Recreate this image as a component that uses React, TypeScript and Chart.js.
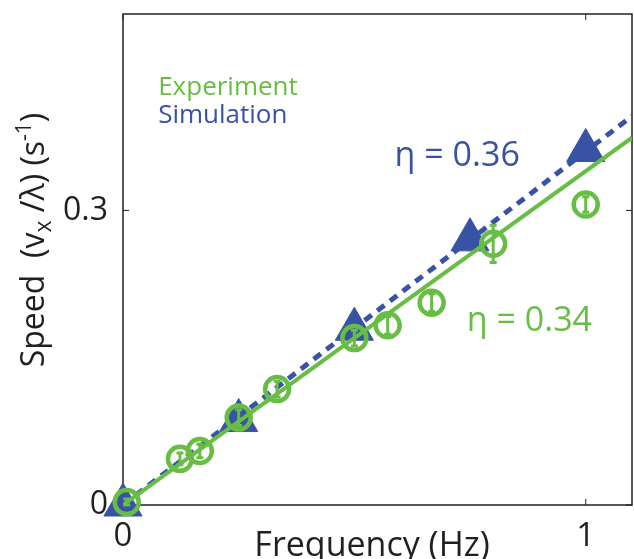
import React, { useEffect, useRef } from "react";
import { Chart, registerables } from "chart.js";
Chart.register(...registerables);

// ---- data ----
const expFreq = [0.008, 0.123, 0.166, 0.25, 0.333, 0.5, 0.572, 0.667, 0.8, 1.0];
const expSpeed = [0.003, 0.047, 0.055, 0.089, 0.118, 0.17, 0.183, 0.206, 0.266, 0.306];
const expErr = [0.003, 0.006, 0.007, 0.008, 0.008, 0.008, 0.009, 0.009, 0.019, 0.008];
const simFreq = [0, 0.25, 0.5, 0.75, 1.0];
const simSpeed = [0, 0.086, 0.179, 0.27, 0.361];
const fitFreq = [0, 1.1];
const expFitSpeed = [0, 0.374];
const simFitSpeed = [0, 0.396];
const xTickValues = [0, 1];
const xTickLabels = ["0", "1"];
const yTickValues = [0, 0.3];
const yTickLabels = ["0", "0.3"];

const GREEN = "#68bd45";
const BLUE = "#3953a4";
const INK = "#231f20";
const FONT = "'Open Sans', 'DejaVu Sans', sans-serif";

const toPts = (xs: number[], ys: number[]) => xs.map((x, i) => ({ x, y: ys[i] }));

const decorPlugin = {
  id: "decor",
  beforeDatasetsDraw(chart: any) {
    const { ctx, chartArea: a, scales } = chart;
    const xs = scales.x, ys = scales.y;
    ctx.save();
    ctx.strokeStyle = INK;
    ctx.lineWidth = 1.5;
    ctx.strokeRect(a.left, a.top, a.right - a.left, a.bottom - a.top);
    const tl = 6;
    ctx.lineWidth = 1;
    ctx.beginPath();
    xTickValues.forEach((v) => {
      const px = xs.getPixelForValue(v);
      ctx.moveTo(px, a.bottom);
      ctx.lineTo(px, a.bottom - tl);
      ctx.moveTo(px, a.top);
      ctx.lineTo(px, a.top + tl);
    });
    yTickValues.forEach((v) => {
      const py = ys.getPixelForValue(v);
      ctx.moveTo(a.left, py);
      ctx.lineTo(a.left + tl, py);
      ctx.moveTo(a.right, py);
      ctx.lineTo(a.right - tl, py);
    });
    ctx.stroke();
    ctx.restore();
  },
  afterDatasetsDraw(chart: any) {
    const { ctx, scales } = chart;
    const xs = scales.x, ys = scales.y;
    ctx.save();
    ctx.strokeStyle = GREEN;
    ctx.lineWidth = 3;
    ctx.beginPath();
    expFreq.forEach((f, i) => {
      const px = xs.getPixelForValue(f);
      const y1 = ys.getPixelForValue(expSpeed[i] - expErr[i]);
      const y2 = ys.getPixelForValue(expSpeed[i] + expErr[i]);
      ctx.moveTo(px, y1);
      ctx.lineTo(px, y2);
      ctx.moveTo(px - 3.5, y1);
      ctx.lineTo(px + 3.5, y1);
      ctx.moveTo(px - 3.5, y2);
      ctx.lineTo(px + 3.5, y2);
    });
    ctx.stroke();
    ctx.restore();
  },
  afterDraw(chart: any) {
    const { ctx, scales } = chart;
    const xs = scales.x, ys = scales.y;
    ctx.save();
    ctx.textBaseline = "alphabetic";
    ctx.textAlign = "left";
    const txt = (s: string, x: number, y: number, size: number, color: string) => {
      ctx.font = `${size}px ${FONT}`;
      ctx.fillStyle = color;
      ctx.fillText(s, xs.getPixelForValue(x), ys.getPixelForValue(y));
    };
    txt("Experiment", 0.076, 0.418, 26, GREEN);
    txt("Simulation", 0.076, 0.389, 26, BLUE);
    txt("η = 0.36", 0.587, 0.345, 34, BLUE);
    txt("η = 0.34", 0.743, 0.177, 34, GREEN);

    // x-axis title
    ctx.font = `34px ${FONT}`;
    ctx.fillStyle = INK;
    ctx.textAlign = "center";
    ctx.fillText("Frequency (Hz)", 372, 556);

    // y-axis title (rotated, with sub/superscript)
    const parts: [string, number, number][] = [
      ["Speed  (v", 32, 0],
      ["x", 23, 7],
      [" /λ) (s", 32, 0],
      ["-1", 21, -13],
      [")", 32, 0],
    ];
    let total = 0;
    parts.forEach(([s, size]) => {
      ctx.font = `${size}px ${FONT}`;
      total += ctx.measureText(s).width;
    });
    ctx.translate(44, 240);
    ctx.rotate(-Math.PI / 2);
    ctx.textAlign = "left";
    let cx = -total / 2;
    parts.forEach(([s, size, dy]) => {
      ctx.font = `${size}px ${FONT}`;
      ctx.fillText(s, cx, dy);
      cx += ctx.measureText(s).width;
    });
    ctx.restore();
  },
};

export default function App() {
  const ref = useRef<HTMLCanvasElement>(null);
  useEffect(() => {
    if (!ref.current) return;
    const chart = new Chart(ref.current, {
      type: "scatter",
      data: {
        datasets: [
          {
            label: "Experiment",
            data: toPts(expFreq, expSpeed),
            pointStyle: "circle",
            pointRadius: 12,
            borderWidth: 4.5,
            borderColor: GREEN,
            backgroundColor: "rgba(0,0,0,0)",
            showLine: false,
            clip: false,
            order: 0,
          } as any,
          {
            label: "Experiment fit",
            data: toPts(fitFreq, expFitSpeed),
            showLine: true,
            borderColor: GREEN,
            borderWidth: 4,
            pointRadius: 0,
            order: 1,
          } as any,
          {
            label: "Simulation fit",
            data: toPts(fitFreq, simFitSpeed),
            showLine: true,
            borderColor: BLUE,
            borderWidth: 5,
            borderDash: [9, 7],
            pointRadius: 0,
            order: 2,
          } as any,
          {
            label: "Simulation",
            data: toPts(simFreq, simSpeed),
            pointStyle: "triangle",
            pointRadius: 22,
            borderWidth: 1,
            borderColor: BLUE,
            backgroundColor: BLUE,
            showLine: false,
            clip: false,
            order: 3,
          } as any,
        ],
      },
      options: {
        animation: false,
        responsive: true,
        maintainAspectRatio: false,
        layout: { autoPadding: false, padding: { top: 14, right: 2, left: 0, bottom: 0 } },
        plugins: { legend: { display: false }, tooltip: { enabled: false } },
        scales: {
          x: {
            type: "linear",
            min: 0,
            max: 1.1,
            afterBuildTicks: (s: any) => {
              s.ticks = xTickValues.map((v) => ({ value: v }));
            },
            afterFit: (s: any) => {
              s.height = 54;
              s.paddingLeft = 0;
              s.paddingRight = 0;
            },
            ticks: {
              callback: (_v: any, i: number) => xTickLabels[i],
              font: { size: 33, family: FONT },
              color: INK,
              padding: 12,
              maxRotation: 0,
              autoSkip: false,
            },
            grid: { display: false, drawTicks: false, tickLength: 0 },
            border: { display: false },
          },
          y: {
            type: "linear",
            min: 0,
            max: 0.5,
            afterBuildTicks: (s: any) => {
              s.ticks = yTickValues.map((v) => ({ value: v }));
            },
            afterFit: (s: any) => {
              s.width = 123;
              s.paddingTop = 0;
              s.paddingBottom = 0;
            },
            ticks: {
              callback: (_v: any, i: number) => yTickLabels[i],
              font: { size: 32, family: FONT },
              color: INK,
              padding: 15,
              autoSkip: false,
            },
            grid: { display: false, drawTicks: false, tickLength: 0 },
            border: { display: false },
          },
        },
      } as any,
      plugins: [decorPlugin],
    });
    return () => chart.destroy();
  }, []);
  return (
    <div style={{ position: "absolute", left: 0, top: 0, width: 634, height: 559, background: "#fff" }}>
      <canvas ref={ref} />
    </div>
  );
}
